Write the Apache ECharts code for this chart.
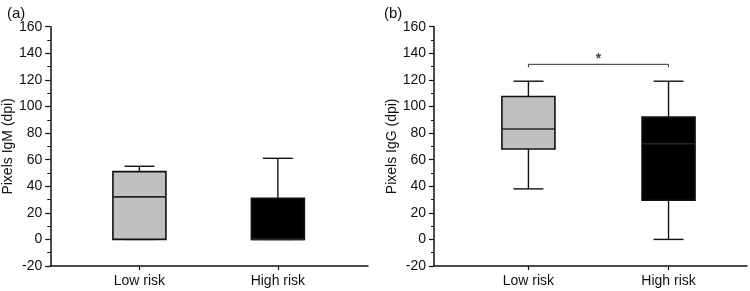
<!DOCTYPE html>
<html>
<head>
<meta charset="utf-8">
<script src="https://cdn.jsdelivr.net/npm/echarts@6/dist/echarts.min.js"></script>
<style>
  html, body { margin: 0; background: #fff; }
  #chart { width: 750px; height: 291px; }
</style>
</head>
<body>
<div id="chart"></div>
<script>
var categories = ['Low risk', 'High risk'];
var categoryPos = [1, 2];
// [position, lower whisker, Q1, median, Q3, upper whisker]
var igmBoxes = [
  [1, 0, 0, 32, 51, 55],
  [2, 0, 0, 0, 31, 61]
];
var iggBoxes = [
  [1, 38, 68, 83, 107.5, 119],
  [2, 0, 29.5, 72, 92, 119]
];
var boxColors = ['#c0c0c0', '#000000'];
var bracket = [[1, 129.5], [1, 131.7], [2, 131.7], [2, 129.5]];
var starPoint = [[1.5, 135.5]];
var yMin = -20, yMax = 160, yStep = 20;

var font = 'Liberation Sans, Arial, sans-serif';
var ink = '#111';

function drawBox(params, api) {
  var x = api.value(0);
  var lo = api.coord([x, api.value(1)]);
  var q1 = api.coord([x, api.value(2)]);
  var md = api.coord([x, api.value(3)]);
  var q3 = api.coord([x, api.value(4)]);
  var hi = api.coord([x, api.value(5)]);
  var cx = lo[0], bw = 53, cw = 30;
  var line = { stroke: ink, lineWidth: 1.4 };
  return {
    type: 'group',
    children: [
      { type: 'line', shape: { x1: cx, y1: hi[1], x2: cx, y2: q3[1] }, style: line },
      { type: 'line', shape: { x1: cx, y1: q1[1], x2: cx, y2: lo[1] }, style: line },
      { type: 'line', shape: { x1: cx - cw / 2, y1: hi[1], x2: cx + cw / 2, y2: hi[1] }, style: line },
      { type: 'line', shape: { x1: cx - cw / 2, y1: lo[1], x2: cx + cw / 2, y2: lo[1] }, style: line },
      { type: 'rect', shape: { x: cx - bw / 2, y: q3[1], width: bw, height: q1[1] - q3[1] },
        style: { fill: boxColors[params.dataIndex], stroke: ink, lineWidth: 1.6 } },
      { type: 'line', shape: { x1: cx - bw / 2, y1: md[1], x2: cx + bw / 2, y2: md[1] },
        style: { stroke: '#262626', lineWidth: 1.6 } }
    ]
  };
}

function xAxisFor(idx, min, max) {
  return {
    type: 'value', gridIndex: idx, min: min, max: max,
    splitLine: { show: false },
    axisLine: { onZero: false, lineStyle: { color: ink, width: 1.5 } },
    axisTick: { customValues: categoryPos, length: 4, lineStyle: { color: ink, width: 1.2 } },
    axisLabel: {
      customValues: categoryPos, margin: 8, color: ink, fontSize: 14, fontFamily: font,
      formatter: function (v) { return categories[Math.round(v) - 1]; }
    }
  };
}

function yAxisFor(idx, name, gap) {
  return {
    type: 'value', gridIndex: idx, min: yMin, max: yMax, interval: yStep,
    name: name, nameLocation: 'middle', nameGap: gap,
    nameTextStyle: { color: ink, fontSize: 14, fontFamily: font },
    splitLine: { show: false },
    axisLine: { show: true, onZero: false, lineStyle: { color: ink, width: 1.5 } },
    axisTick: { show: true, length: 5, lineStyle: { color: ink, width: 1.2 } },
    minorTick: { show: true, splitNumber: 2, length: 3, lineStyle: { color: ink, width: 1 } },
    axisLabel: { margin: 8, color: ink, fontSize: 14, fontFamily: font }
  };
}

var chart = echarts.init(document.getElementById('chart'));
chart.setOption({
  animation: false,
  backgroundColor: '#fff',
  title: [
    { text: '(a)', left: 2, top: 1, textStyle: { color: ink, fontSize: 15, fontWeight: 'normal', fontFamily: font } },
    { text: '(b)', left: 379, top: 1, textStyle: { color: ink, fontSize: 15, fontWeight: 'normal', fontFamily: font } }
  ],
  grid: [
    { left: 48, right: 382, top: 26.7, bottom: 25 },
    { left: 434, right: 3, top: 26.7, bottom: 25 }
  ],
  xAxis: [xAxisFor(0, 0.356, 2.651), xAxisFor(1, 0.326, 2.56)],
  yAxis: [yAxisFor(0, 'Pixels IgM (dpi)', 33), yAxisFor(1, 'Pixels IgG (dpi)', 27)],
  series: [
    { type: 'custom', xAxisIndex: 0, yAxisIndex: 0, renderItem: drawBox,
      encode: { x: 0, y: [1, 2, 3, 4, 5] }, data: igmBoxes },
    { type: 'custom', xAxisIndex: 1, yAxisIndex: 1, renderItem: drawBox,
      encode: { x: 0, y: [1, 2, 3, 4, 5] }, data: iggBoxes },
    { type: 'line', xAxisIndex: 1, yAxisIndex: 1, data: bracket, symbol: 'none',
      lineStyle: { color: '#333', width: 1 } },
    { type: 'scatter', xAxisIndex: 1, yAxisIndex: 1, data: starPoint, symbolSize: 1,
      itemStyle: { color: 'transparent' },
      label: { show: true, position: 'inside', formatter: '*', color: ink, fontSize: 14,
        fontWeight: 'bold', fontFamily: font } }
  ]
});
</script>
</body>
</html>
